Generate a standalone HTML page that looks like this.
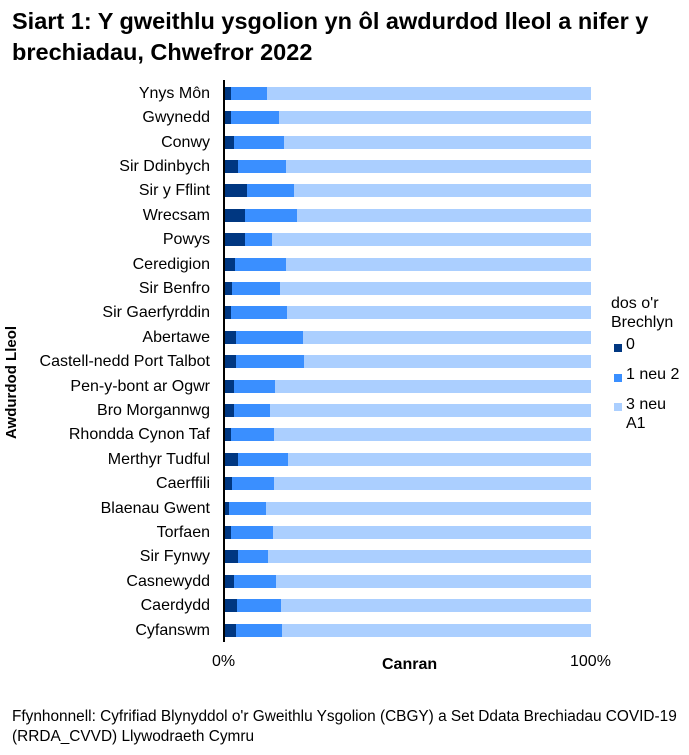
<!DOCTYPE html>
<html><head><meta charset="utf-8"><style>
body{margin:0;width:689px;height:755px;background:#fff;font-family:"Liberation Sans",Arial,sans-serif;position:relative;overflow:hidden;color:#000}
.t{position:absolute;left:12px;top:6px;font-size:23.5px;font-weight:bold;line-height:31px;width:680px;white-space:nowrap}
.r{position:absolute;left:0;width:689px;height:13px}
.l{position:absolute;right:479px;top:-2px;font-size:16px;white-space:nowrap;line-height:18px}
.b{position:absolute;top:0;height:13px}
.a{background:#003781}.m{background:#3a8fff}.c{background:#abcfff}
.ax{position:absolute;left:223px;top:80px;width:2px;height:562px;background:#000}
.s{position:absolute;font-size:16px;white-space:nowrap}
.sq{position:absolute;width:8px;height:8px}
</style></head><body>
<div class="t">Siart 1: Y gweithlu ysgolion yn ôl awdurdod lleol a nifer y<br>brechiadau, Chwefror 2022</div>

<div class="r" style="top:87px"><div class="l">Ynys Môn</div><div class="b a" style="left:224px;width:7px"></div><div class="b m" style="left:231px;width:36px"></div><div class="b c" style="left:267px;width:324px"></div></div>
<div class="r" style="top:111px"><div class="l">Gwynedd</div><div class="b a" style="left:224px;width:7px"></div><div class="b m" style="left:231px;width:48px"></div><div class="b c" style="left:279px;width:312px"></div></div>
<div class="r" style="top:136px"><div class="l">Conwy</div><div class="b a" style="left:224px;width:10px"></div><div class="b m" style="left:234px;width:50px"></div><div class="b c" style="left:284px;width:307px"></div></div>
<div class="r" style="top:160px"><div class="l">Sir Ddinbych</div><div class="b a" style="left:224px;width:14px"></div><div class="b m" style="left:238px;width:48px"></div><div class="b c" style="left:286px;width:305px"></div></div>
<div class="r" style="top:184px"><div class="l">Sir y Fflint</div><div class="b a" style="left:224px;width:23px"></div><div class="b m" style="left:247px;width:47px"></div><div class="b c" style="left:294px;width:297px"></div></div>
<div class="r" style="top:209px"><div class="l">Wrecsam</div><div class="b a" style="left:224px;width:21px"></div><div class="b m" style="left:245px;width:52px"></div><div class="b c" style="left:297px;width:294px"></div></div>
<div class="r" style="top:233px"><div class="l">Powys</div><div class="b a" style="left:224px;width:21px"></div><div class="b m" style="left:245px;width:27px"></div><div class="b c" style="left:272px;width:319px"></div></div>
<div class="r" style="top:258px"><div class="l">Ceredigion</div><div class="b a" style="left:224px;width:11px"></div><div class="b m" style="left:235px;width:51px"></div><div class="b c" style="left:286px;width:305px"></div></div>
<div class="r" style="top:282px"><div class="l">Sir Benfro</div><div class="b a" style="left:224px;width:8px"></div><div class="b m" style="left:232px;width:48px"></div><div class="b c" style="left:280px;width:311px"></div></div>
<div class="r" style="top:306px"><div class="l">Sir Gaerfyrddin</div><div class="b a" style="left:224px;width:7px"></div><div class="b m" style="left:231px;width:56px"></div><div class="b c" style="left:287px;width:304px"></div></div>
<div class="r" style="top:331px"><div class="l">Abertawe</div><div class="b a" style="left:224px;width:12px"></div><div class="b m" style="left:236px;width:67px"></div><div class="b c" style="left:303px;width:288px"></div></div>
<div class="r" style="top:355px"><div class="l">Castell-nedd Port Talbot</div><div class="b a" style="left:224px;width:12px"></div><div class="b m" style="left:236px;width:68px"></div><div class="b c" style="left:304px;width:287px"></div></div>
<div class="r" style="top:380px"><div class="l">Pen-y-bont ar Ogwr</div><div class="b a" style="left:224px;width:10px"></div><div class="b m" style="left:234px;width:41px"></div><div class="b c" style="left:275px;width:316px"></div></div>
<div class="r" style="top:404px"><div class="l">Bro Morgannwg</div><div class="b a" style="left:224px;width:10px"></div><div class="b m" style="left:234px;width:36px"></div><div class="b c" style="left:270px;width:321px"></div></div>
<div class="r" style="top:428px"><div class="l">Rhondda Cynon Taf</div><div class="b a" style="left:224px;width:7px"></div><div class="b m" style="left:231px;width:43px"></div><div class="b c" style="left:274px;width:317px"></div></div>
<div class="r" style="top:453px"><div class="l">Merthyr Tudful</div><div class="b a" style="left:224px;width:14px"></div><div class="b m" style="left:238px;width:50px"></div><div class="b c" style="left:288px;width:303px"></div></div>
<div class="r" style="top:477px"><div class="l">Caerffili</div><div class="b a" style="left:224px;width:8px"></div><div class="b m" style="left:232px;width:42px"></div><div class="b c" style="left:274px;width:317px"></div></div>
<div class="r" style="top:502px"><div class="l">Blaenau Gwent</div><div class="b a" style="left:224px;width:5px"></div><div class="b m" style="left:229px;width:37px"></div><div class="b c" style="left:266px;width:325px"></div></div>
<div class="r" style="top:526px"><div class="l">Torfaen</div><div class="b a" style="left:224px;width:7px"></div><div class="b m" style="left:231px;width:42px"></div><div class="b c" style="left:273px;width:318px"></div></div>
<div class="r" style="top:550px"><div class="l">Sir Fynwy</div><div class="b a" style="left:224px;width:14px"></div><div class="b m" style="left:238px;width:30px"></div><div class="b c" style="left:268px;width:323px"></div></div>
<div class="r" style="top:575px"><div class="l">Casnewydd</div><div class="b a" style="left:224px;width:10px"></div><div class="b m" style="left:234px;width:42px"></div><div class="b c" style="left:276px;width:315px"></div></div>
<div class="r" style="top:599px"><div class="l">Caerdydd</div><div class="b a" style="left:224px;width:13px"></div><div class="b m" style="left:237px;width:44px"></div><div class="b c" style="left:281px;width:310px"></div></div>
<div class="r" style="top:624px"><div class="l">Cyfanswm</div><div class="b a" style="left:224px;width:12px"></div><div class="b m" style="left:236px;width:46px"></div><div class="b c" style="left:282px;width:309px"></div></div>

<div class="ax"></div>
<div class="s" style="left:212px;top:653px">0%</div>
<div class="s" style="left:570px;top:653px">100%</div>
<div class="s" style="left:382px;top:656px;font-weight:bold">Canran</div>
<div class="s" style="left:3px;font-size:15px;font-weight:bold;transform:rotate(-90deg);transform-origin:0 0;top:439px">Awdurdod Lleol</div>

<div class="s" style="left:611px;top:294px;line-height:19px">dos o'r<br>Brechlyn</div>
<div class="sq a" style="left:614px;top:344px"></div><div class="s" style="left:626px;top:336px">0</div>
<div class="sq m" style="left:614px;top:374px"></div><div class="s" style="left:626px;top:366px">1 neu 2</div>
<div class="sq c" style="left:614px;top:403px"></div><div class="s" style="left:626px;top:395px;line-height:19px">3 neu<br>A1</div>

<div class="s" style="left:12px;top:707px;line-height:20px;font-size:15.4px">Ffynhonnell: Cyfrifiad Blynyddol o'r Gweithlu Ysgolion (CBGY) a Set Ddata Brechiadau COVID-19<br>(RRDA_CVVD) Llywodraeth Cymru</div>
</body></html>
